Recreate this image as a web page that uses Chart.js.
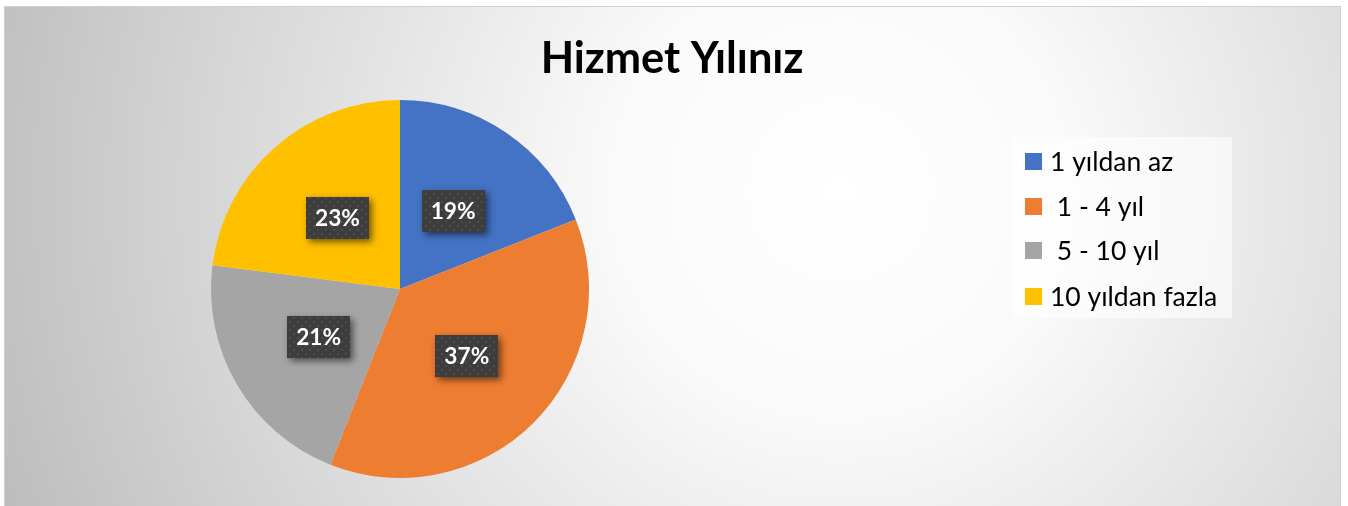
<!DOCTYPE html>
<html><head><meta charset="utf-8">
<script src="https://cdn.jsdelivr.net/npm/chart.js@4"></script>
<style>html,body{margin:0;padding:0;background:#fff;}#wrap{width:1348px;height:506px;position:relative;}</style>
</head><body><div id="wrap"><canvas id="c" width="1348" height="506"></canvas></div>
<script>
const titleText = 'Hizmet Yılınız';
const categories = ['1 yıldan az', ' 1 - 4 yıl', ' 5 - 10 yıl', '10 yıldan fazla'];
const values = [19, 37, 21, 23];
const colors = ['#4472C4', '#ED7D31', '#A5A5A5', '#FFC000'];

const FONT = 'Lato, "Open Sans", sans-serif';

function fitSize(ctx, text, weight, target){
  ctx.save();
  ctx.font = weight + ' 100px ' + FONT;
  const w = ctx.measureText(text).width;
  ctx.restore();
  return 100 * target / w;
}

function makePattern(ctx){
  const p = document.createElement('canvas'); p.width = 8; p.height = 8;
  const g = p.getContext('2d');
  g.fillStyle = '#3d3d3d'; g.fillRect(0,0,8,8);
  g.fillStyle = '#4e4e4e';
  g.fillRect(1,1,2,2); g.fillRect(5,5,2,2);
  return ctx.createPattern(p, 'repeat');
}

const bgPlugin = {
  id: 'bg',
  beforeDraw(chart){
    const ctx = chart.ctx;
    ctx.save();
    ctx.fillStyle = '#ffffff';
    ctx.fillRect(0,0,chart.width,chart.height);
    const x0=4, y0=6, x1=1341, y1=506;
    const g = ctx.createRadialGradient(840, 190, 0, 840, 190, 900);
    g.addColorStop(0, '#ffffff');
    g.addColorStop(0.25, '#fafafa');
    g.addColorStop(0.7, '#d6d6d6');
    g.addColorStop(1, '#bcbcbc');
    ctx.fillStyle = g;
    ctx.fillRect(x0,y0,x1-x0,y1-y0);
    ctx.strokeStyle = '#d0d0d0';
    ctx.lineWidth = 1;
    ctx.strokeRect(x0+0.5,y0+0.5,x1-x0-1,y1-y0);
    // title
    const ts = fitSize(ctx, titleText, 'bold', 263);
    ctx.fillStyle = '#000';
    ctx.font = 'bold ' + ts.toFixed(1) + 'px ' + FONT;
    ctx.textAlign = 'center'; ctx.textBaseline = 'alphabetic';
    ctx.fillText(titleText, 672, 73);
    ctx.restore();
  }
};

const labelPlugin = {
  id: 'lbl',
  afterDatasetsDraw(chart){
    const ctx = chart.ctx;
    const meta = chart.getDatasetMeta(0);
    const pat = makePattern(ctx);
    const ls = fitSize(ctx, '37%', 'bold', 45);
    meta.data.forEach((arc, i) => {
      const mid = (arc.startAngle + arc.endAngle)/2;
      const r = arc.outerRadius * 0.5;
      const cx = arc.x + Math.cos(mid)*r;
      const cy = arc.y + Math.sin(mid)*r;
      const w = 63, h = 42;
      ctx.save();
      ctx.shadowColor = 'rgba(0,0,0,0.55)';
      ctx.shadowBlur = 7; ctx.shadowOffsetX = 3; ctx.shadowOffsetY = 3;
      ctx.fillStyle = pat;
      ctx.fillRect(Math.round(cx-w/2), Math.round(cy-h/2), w, h);
      ctx.restore();
      ctx.save();
      ctx.fillStyle = '#ffffff';
      ctx.font = 'bold ' + ls.toFixed(1) + 'px ' + FONT;
      ctx.textAlign = 'center'; ctx.textBaseline = 'middle';
      ctx.fillText(values[i] + '%', cx, cy+1);
      ctx.restore();
    });
    // legend
    const gs = fitSize(ctx, categories[3], 'normal', 167);
    ctx.save();
    ctx.fillStyle = 'rgba(255,255,255,0.6)';
    ctx.fillRect(1013, 137, 219, 181);
    const ys = [161, 206, 250, 296];
    categories.forEach((c, i) => {
      ctx.fillStyle = colors[i];
      ctx.fillRect(1025, ys[i]-8, 17, 17);
      ctx.fillStyle = '#000';
      ctx.font = 'normal ' + gs.toFixed(1) + 'px ' + FONT;
      ctx.textAlign = 'left'; ctx.textBaseline = 'middle';
      ctx.fillText(c, 1050, ys[i]+1);
    });
    ctx.restore();
  }
};

new Chart(document.getElementById('c'), {
  type: 'pie',
  data: { labels: categories, datasets: [{ data: values, backgroundColor: colors, borderWidth: 0 }] },
  options: {
    responsive: false, animation: false,
    layout: { padding: { left: 211, right: 759, top: 100, bottom: 28 } },
    plugins: { legend: { display: false }, title: { display: false }, tooltip: { enabled: false } }
  },
  plugins: [bgPlugin, labelPlugin]
});
</script></body></html>
